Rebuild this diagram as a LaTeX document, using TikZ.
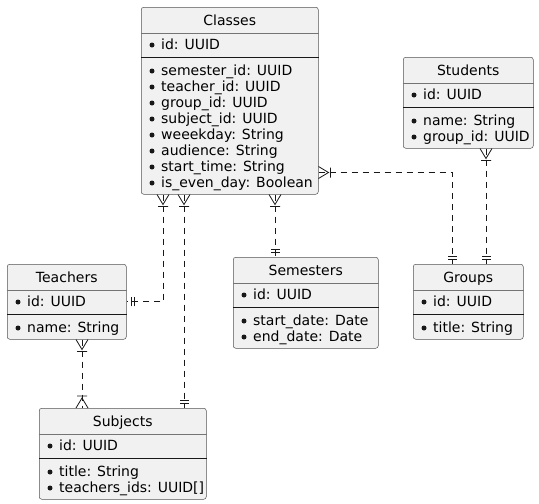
\documentclass[tikz,border=0pt]{standalone}
\usepackage{fontspec}
\setmainfont{DejaVu Sans}
\definecolor{boxfill}{HTML}{F1F1F1}
\definecolor{ink}{HTML}{181818}
\newcommand\erfont{\fontsize{14pt}{16pt}\selectfont}

\tikzset{
  box/.style={draw=ink!75, line width=0.5pt, fill=boxfill, rounded corners=2.5pt, inner sep=0pt},
  heading/.style={anchor=base, inner sep=0pt, font=\erfont},
  entry/.style={anchor=base west, inner sep=0pt, font=\erfont},
  rel/.style={draw=ink, line width=1pt, dash pattern=on 6pt off 5pt},
  endmark/.style={draw=ink, line width=0.8pt}
}

% entity: name, x, y, width, height, title, id line, other fields
\newcommand\entity[8]{
  \node[box, anchor=north west, minimum width=#4, minimum height=#5] (#1) at (#2,#3) {};
  \node[heading] (#1-title) at ([yshift=-18pt]#1.north) {#6};
  \draw[draw=ink!60, line width=0.5pt] ([yshift=-26pt]#1.north west) -- ([yshift=-26pt]#1.north east);
  \draw[draw=ink, line width=1pt] ([yshift=-50pt]#1.north west) -- ([yshift=-50pt]#1.north east);
  \fill[ink] ([xshift=11pt,yshift=-38pt]#1.north west) circle (2.5pt);
  \node[entry] (#1-id) at ([xshift=20pt,yshift=-42pt]#1.north west) {#7};
  \foreach \f [count=\i] in {#8}{
    \fill[ink] ([xshift=11pt,yshift={-(48+16*\i)*1pt}]#1.north west) circle (2.5pt);
    \node[entry] (#1-f\i) at ([xshift=20pt,yshift={-(52+16*\i)*1pt}]#1.north west) {\f};
  }
}
% crow's foot with bar, and the double bar; point on edge, outward angle
\newcommand\many[2]{
  \begin{scope}[shift={#1},rotate=#2]
    \draw[endmark] (0,6) -- (10,0) -- (0,-6) (12,5) -- (12,-5);
  \end{scope}
}
\newcommand\one[2]{
  \begin{scope}[shift={#1},rotate=#2]
    \draw[endmark] (5,4.5) -- (5,-4.5) (8,4.5) -- (8,-4.5);
  \end{scope}
}

\begin{document}
\begin{tikzpicture}[x=1pt,y=-1pt]
  \useasboundingbox (0,0) rectangle (539,504);

  \entity{classes}{141}{7}{177}{187}{Classes}{id: UUID}{semester\_id: UUID, teacher\_id: UUID, group\_id: UUID, subject\_id: UUID, weeekday: String, audience: String, start\_time: String, is\_even\_day: Boolean}
  \entity{students}{403}{57}{130}{91}{Students}{id: UUID}{name: String, group\_id: UUID}
  \entity{teachers}{7}{264}{119}{75}{Teachers}{id: UUID}{name: String}
  \entity{semesters}{233}{257}{145}{91}{Semesters}{id: UUID}{start\_date: Date, end\_date: Date}
  \entity{groups}{413}{264}{110}{75}{Groups}{id: UUID}{title: String}
  \entity{subjects}{39}{408}{167}{91}{Subjects}{id: UUID}{title: String, teachers\_ids: UUID[]}

  % relations
  \coordinate (ct) at ([xshift=22pt]classes.south west);
  \coordinate (cs) at ([xshift=43pt]classes.south west);
  \coordinate (sc) at (cs |- subjects.north);
  \coordinate (cm) at ([xshift=134pt]classes.south west);
  \coordinate (mc) at (cm |- semesters.north);
  \coordinate (cg) at ([yshift=22pt]classes.south east);
  \coordinate (gc) at ([xshift=39pt]groups.north west);
  \coordinate (sg) at ([xshift=83pt]students.south west);
  \coordinate (gs) at (sg |- groups.north);
  \coordinate (ts) at ([xshift=75pt]teachers.south west);
  \coordinate (st) at (ts |- subjects.north);

  \draw[rel] (ct) |- (teachers.east);
  \draw[rel] (cs) -- (sc);
  \draw[rel] (cm) -- (mc);
  \draw[rel] (cg) -| (gc);
  \draw[rel] (sg) -- (gs);
  \draw[rel] (ts) -- (st);

  \many{(ct)}{-90} \one{(teachers.east)}{0}
  \many{(cs)}{-90} \one{(sc)}{90}
  \many{(cm)}{-90} \one{(mc)}{90}
  \many{(cg)}{0}   \one{(gc)}{90}
  \many{(sg)}{-90} \one{(gs)}{90}
  \many{(ts)}{-90} \many{(st)}{90}
\end{tikzpicture}
\end{document}
